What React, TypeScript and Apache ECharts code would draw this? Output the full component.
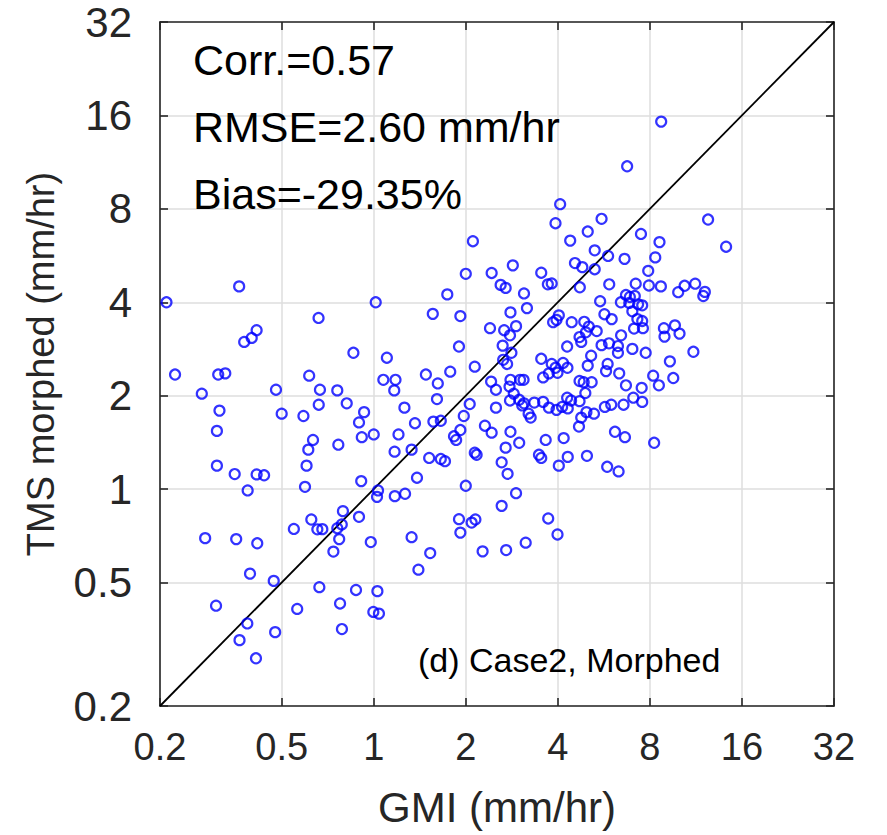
import React, { useEffect, useRef } from "react";
import * as echarts from "echarts";

const tickValues = [0.2, 0.5, 1, 2, 4, 8, 16, 32];
const axisMin = 0.2;
const axisMax = 32;

const gmi = [
  0.21, 0.363, 0.66, 1.015, 0.377, 0.399, 0.414, 0.224, 0.31, 0.327,
  0.274, 0.479, 0.858, 1.104, 0.615, 1.075, 1.178, 1.167, 0.667, 0.76,
  0.313, 0.5, 0.589, 0.661, 0.816, 0.93, 0.895, 0.307, 0.633, 0.611,
  0.766, 0.914, 1.0, 1.205, 1.17, 0.307, 0.603,
  0.351, 0.414, 0.438, 0.387, 0.596, 0.91, 1.033, 1.025, 1.172, 0.793,
  0.625, 0.895, 0.548, 0.654, 0.679, 0.76, 0.786, 0.771, 0.738, 0.978,
  0.281, 0.355, 0.416, 0.394, 0.471, 0.664, 0.875, 1.028, 0.305, 0.562,
  0.776, 0.997, 1.04, 0.386, 0.364, 0.476, 0.787, 0.412,
  6.74, 4.07, 3.93, 5.56, 5.01, 4.39, 5.28, 5.84, 6.61, 4.55,
  4.81, 5.28, 2.11, 2.0, 2.43, 2.85, 3.53, 3.71, 3.82, 4.72,
  5.89, 7.19, 2.6, 2.7, 3.1, 3.17, 2.8, 1.74, 1.56, 1.92,
  1.9, 2.4, 2.67, 2.92, 2.79, 2.64, 2.65, 2.82, 2.14, 3.53,
  4.03, 3.96, 4.44, 4.88, 5.05, 5.36, 4.71, 4.77, 4.29, 5.14,
  5.56, 5.88, 6.29, 6.29, 6.44, 5.5, 5.68, 6.0,
  8.71, 12.4, 14.2, 7.48, 8.6, 8.33, 7.9, 7.94, 8.69, 11.25,
  10.39, 9.9, 12.1, 11.96, 6.68, 6.88, 7.14, 6.43, 6.85, 7.32,
  7.55, 7.01, 7.28, 7.55, 7.1, 7.59, 8.89, 8.93, 9.66, 10.0,
  7.01, 7.75, 11.1, 9.3, 9.54, 8.2, 8.56, 5.82, 5.75, 6.35,
  6.68, 7.52,
  5.7, 5.98, 6.56, 7.06, 7.55, 6.15, 6.63, 8.26, 5.8, 6.32,
  2.73, 3.82, 3.93, 3.99, 4.3, 4.16, 5.01, 2.42, 2.51, 2.78,
  2.8, 3.01, 3.09, 3.58, 3.74, 4.86, 4.71, 5.16, 1.481, 1.62,
  1.779, 1.61, 2.06, 2.51, 2.79, 2.87, 2.99, 3.06, 3.1, 3.21,
  3.26, 3.35, 3.58, 3.74, 3.96, 4.13, 4.31, 4.29, 4.42, 4.71,
  4.92, 4.96, 5.25, 4.77, 4.69, 4.18, 3.65, 2.99, 2.8, 2.43,
  2.31, 1.97, 1.92, 1.83, 1.86, 1.657, 1.567, 1.364, 1.26, 1.33,
  1.518, 1.657, 1.71, 1.385, 1.266, 2.0, 2.14, 2.17, 2.7, 2.62,
  2.74, 2.92, 2.62, 3.47, 3.53, 4.03, 4.31, 4.98, 3.72, 3.99,
  3.14, 2.71, 2.27, 1.9, 1.92, 2.09, 2.15, 1.33, 1.53, 1.4,
  3.86, 4.94,
];

const tms = [
  4.0, 4.5, 3.56, 4.0, 2.98, 3.07, 3.25, 2.34, 2.34, 2.36,
  2.03, 2.09, 2.75, 2.65, 2.32, 2.25, 2.25, 2.08, 2.09, 2.08,
  1.79, 1.75, 1.72, 1.87, 1.89, 1.77, 1.64, 1.54, 1.44, 1.34,
  1.39, 1.47, 1.5, 1.5, 1.32, 1.19, 1.19,
  1.118, 1.115, 1.108, 0.99, 1.017, 1.061, 0.99, 0.944, 0.949, 0.849,
  0.798, 0.814, 0.744, 0.742, 0.743, 0.748, 0.769, 0.69, 0.629, 0.675,
  0.695, 0.69, 0.669, 0.534, 0.506, 0.483, 0.473, 0.469, 0.421, 0.411,
  0.428, 0.402, 0.397, 0.369, 0.326, 0.346, 0.354, 0.285,
  10.97, 8.28, 7.19, 7.43, 6.76, 6.32, 5.88, 5.64, 5.52, 5.35,
  5.19, 5.11, 6.29, 4.94, 4.97, 5.26, 4.98, 4.57, 4.6, 4.47,
  4.57, 4.59, 4.55, 4.45, 4.27, 3.83, 3.71, 4.24, 3.67, 3.61,
  2.88, 3.3, 3.25, 3.35, 3.13, 2.9, 2.61, 2.75, 2.48, 2.63,
  3.63, 3.51, 3.45, 3.46, 3.34, 3.23, 3.09, 2.98, 2.88, 2.69,
  2.91, 2.95, 2.89, 2.75, 3.13, 4.03, 3.66, 3.53,
  15.28, 7.39, 6.04, 6.64, 6.25, 5.58, 5.05, 4.53, 4.5, 4.59,
  4.52, 4.31, 4.32, 4.19, 4.22, 4.16, 4.19, 4.0, 3.98, 3.94,
  3.91, 3.74, 3.53, 3.48, 3.29, 3.3, 3.3, 3.1, 3.37, 3.17,
  2.83, 2.75, 2.77, 2.58, 2.28, 2.32, 2.16, 2.53, 2.4, 2.36,
  2.16, 2.12,
  1.84, 1.87, 1.87, 1.97, 1.91, 1.53, 1.47, 1.41, 1.18, 1.14,
  2.53, 2.53, 2.46, 2.37, 2.46, 2.55, 2.5, 2.22, 2.09, 2.14,
  2.25, 2.25, 2.25, 2.29, 2.36, 2.21, 2.23, 2.21, 2.34, 2.19,
  2.39, 1.95, 1.88, 1.83, 1.93, 2.03, 1.94, 1.86, 1.89, 1.75,
  1.7, 1.9, 1.91, 1.83, 1.8, 1.84, 1.82, 1.97, 1.93, 1.92,
  2.04, 1.77, 1.75, 1.7, 1.59, 1.46, 1.44, 1.41, 1.53, 1.52,
  1.6, 1.72, 1.55, 1.48, 1.44, 1.66, 1.65, 1.63, 1.83, 1.34,
  1.26, 1.25, 1.23, 1.088, 0.966, 1.025, 1.31, 1.29, 1.36, 1.22,
  1.12, 0.97, 0.883, 1.29, 1.26, 1.19, 1.27, 1.28, 0.804, 0.714,
  0.672, 0.636, 0.63, 0.8, 0.724, 0.78, 0.798, 0.7, 0.622, 0.55,
  3.45, 3.2,
];

const oneToOne = [axisMin, axisMax];
const statLines = ["Corr.=0.57", "RMSE=2.60 mm/hr", "Bias=-29.35%"];
const panelLabel = "(d) Case2, Morphed";
const xName = "GMI (mm/hr)";
const yName = "TMS morphed (mm/hr)";

export default function App() {
  const ref = useRef<HTMLDivElement>(null);

  useEffect(() => {
    if (!ref.current) return;
    const chart = echarts.init(ref.current, undefined, { renderer: "svg" });
    const font = "'Liberation Sans', Arial, Helvetica, sans-serif";
    const axisColor = "#262626";

    const baseAxis = (show: boolean) => ({
      type: "log",
      logBase: 2,
      min: axisMin,
      max: axisMax,
      axisLine: { show: true, onZero: false, lineStyle: { color: axisColor, width: 1.6 } },
      axisTick: {
        show: true,
        inside: true,
        length: 8,
        customValues: tickValues,
        lineStyle: { color: axisColor, width: 1.6 },
      },
      minorTick: { show: false },
      splitLine: show
        ? { show: true, lineStyle: { color: "#dedede", width: 1.5 } }
        : { show: false },
      minorSplitLine: { show: false },
    });

    const points = gmi.map((g, i) => [g, tms[i]]);

    chart.setOption({
      animation: false,
      backgroundColor: "#ffffff",
      grid: { left: 160, right: 53, top: 22, bottom: 129, containLabel: false },
      xAxis: [
        {
          ...baseAxis(true),
          position: "bottom",
          name: xName,
          nameLocation: "middle",
          nameGap: 80,
          nameTextStyle: { fontFamily: font, fontSize: 42, color: "#262626" },
          axisLabel: {
            show: true,
            customValues: tickValues,
            margin: 22,
            fontFamily: font,
            fontSize: 38,
            color: "#262626",
            formatter: (v: number) => String(v),
          },
        },
        {
          ...baseAxis(false),
          position: "top",
          axisLabel: { show: false },
        },
      ],
      yAxis: [
        {
          ...baseAxis(true),
          position: "left",
          name: yName,
          nameLocation: "middle",
          nameGap: 100,
          nameTextStyle: { fontFamily: font, fontSize: 38, color: "#262626" },
          axisLabel: {
            show: true,
            customValues: tickValues,
            margin: 28,
            fontFamily: font,
            fontSize: 42,
            color: "#262626",
            formatter: (v: number) => String(v),
          },
        },
        {
          ...baseAxis(false),
          position: "right",
          axisLabel: { show: false },
        },
      ],
      series: [
        {
          type: "line",
          data: [
            [oneToOne[0], oneToOne[0]],
            [oneToOne[1], oneToOne[1]],
          ],
          showSymbol: false,
          symbol: "none",
          lineStyle: { color: "#000000", width: 1.8 },
          z: 3,
          silent: true,
        },
        {
          type: "scatter",
          data: points,
          symbol: "circle",
          symbolSize: 10,
          itemStyle: { color: "rgba(0,0,0,0)", borderColor: "#0000ff", borderWidth: 2.2 },
          z: 4,
        },
      ],
      graphic: [
        ...statLines.map((t, i) => ({
          type: "text",
          left: 193,
          top: 38 + i * 67,
          style: { text: t, fontFamily: font, fontSize: 43, fill: "#000000" },
          z: 10,
        })),
        {
          type: "text",
          left: 418,
          top: 643,
          style: { text: panelLabel, fontFamily: font, fontSize: 34, fill: "#000000" },
          z: 10,
        },
      ],
    });

    return () => chart.dispose();
  }, []);

  return (
    <div
      ref={ref}
      style={{ position: "fixed", left: 0, top: 0, width: 887, height: 835, background: "#fff" }}
    />
  );
}
